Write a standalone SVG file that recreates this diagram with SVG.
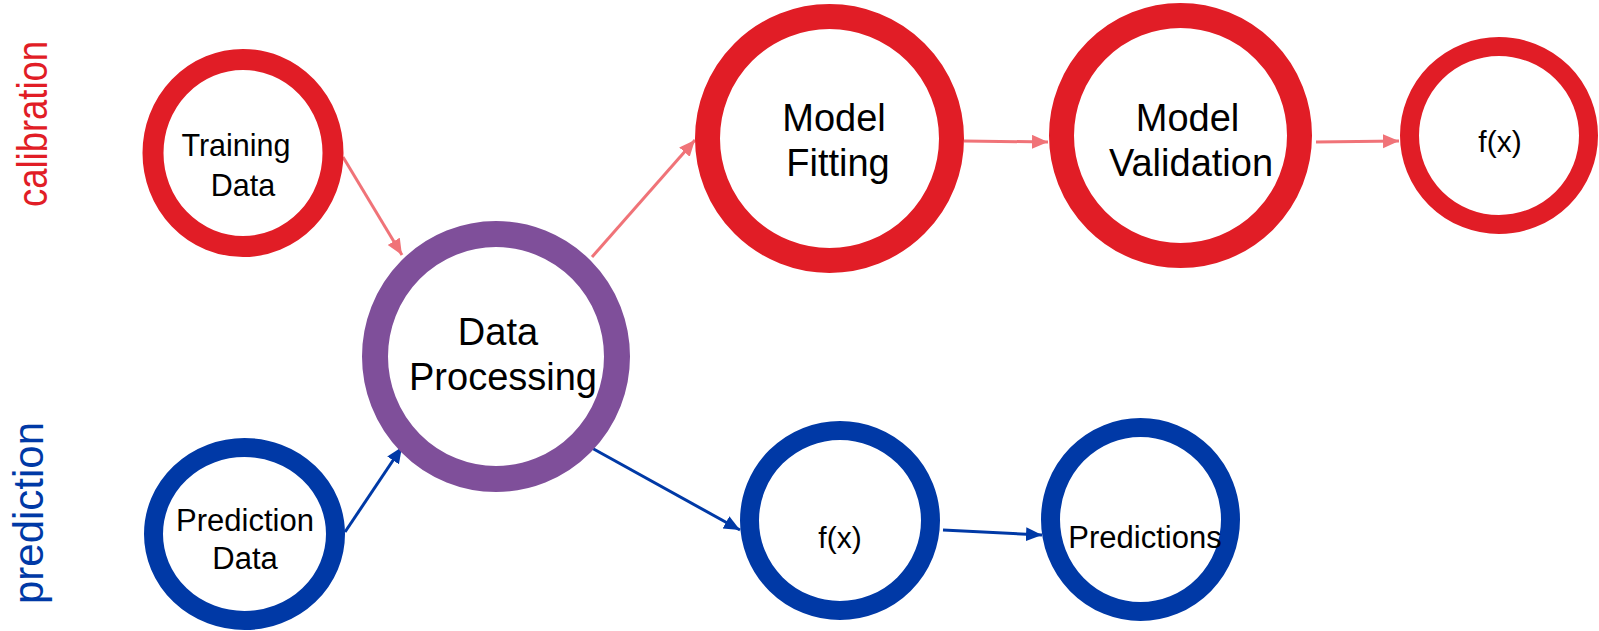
<svg xmlns="http://www.w3.org/2000/svg" width="1599" height="631" viewBox="0 0 1599 631">
<defs>
<style>
.red{fill:#fff;stroke:#E11D26}
.purple{fill:#fff;stroke:#7F4F9A}
.blue{fill:#fff;stroke:#0039A6}
.lbl{font-family:"Liberation Sans",Arial,sans-serif;fill:#000;text-anchor:middle}
.side{font-family:"Liberation Sans",Arial,sans-serif;font-size:42px;text-anchor:middle}
.cr{stroke:#F07378;stroke-width:3;fill:none;marker-end:url(#ah-r)}
.cb{stroke:#0039A6;stroke-width:3;fill:none;marker-end:url(#ah-b)}
</style>
<marker id="ah-r" markerUnits="userSpaceOnUse" markerWidth="18" markerHeight="16" refX="16" refY="7" orient="auto">
<path d="M0,0 L16,7 L0,14 z" fill="#F07378"/>
</marker>
<marker id="ah-b" markerUnits="userSpaceOnUse" markerWidth="18" markerHeight="16" refX="16" refY="7" orient="auto">
<path d="M0,0 L16,7 L0,14 z" fill="#0039A6"/>
</marker>
</defs>
<rect width="1599" height="631" fill="#fff"/>

<g id="side-labels">
<text class="side" fill="#E11D26" transform="translate(47,124) rotate(-90)" textLength="166" lengthAdjust="spacingAndGlyphs">calibration</text>
<text class="side" fill="#0039A6" transform="translate(43,513) rotate(-90)">prediction</text>
</g>

<g id="connectors">
<line class="cr" x1="343" y1="157" x2="402" y2="255"/>
<line class="cb" x1="345" y1="532" x2="402" y2="447"/>
<line class="cr" x1="592" y1="257" x2="695" y2="140"/>
<line class="cb" x1="590" y1="447" x2="740" y2="530"/>
<line class="cr" x1="964" y1="141" x2="1048" y2="142"/>
<line class="cr" x1="1316" y1="142" x2="1399" y2="141"/>
<line class="cb" x1="943" y1="530" x2="1042" y2="535"/>
</g>

<g id="training-data">
<ellipse class="red" cx="243" cy="153" rx="90" ry="93.5" stroke-width="21"/>
<text class="lbl" font-size="30.5" x="236" y="156">Training</text>
<text class="lbl" font-size="30.5" x="243" y="196">Data</text>
</g>

<g id="prediction-data">
<ellipse class="blue" cx="244.5" cy="534" rx="91" ry="86.5" stroke-width="19"/>
<text class="lbl" font-size="31" x="245" y="531">Prediction</text>
<text class="lbl" font-size="31" x="245" y="569">Data</text>
</g>

<g id="data-processing">
<ellipse class="purple" cx="496" cy="356.5" rx="121" ry="122.5" stroke-width="26"/>
<text class="lbl" font-size="38" x="498" y="345">Data</text>
<text class="lbl" font-size="38" x="503" y="390">Processing</text>
</g>

<g id="model-fitting">
<ellipse class="red" cx="829.5" cy="138.5" rx="122" ry="122" stroke-width="25"/>
<text class="lbl" font-size="38" x="834" y="130.5">Model</text>
<text class="lbl" font-size="38" x="838" y="175.5">Fitting</text>
</g>

<g id="model-validation">
<ellipse class="red" cx="1180.5" cy="135.5" rx="119" ry="120" stroke-width="25"/>
<text class="lbl" font-size="38" x="1187.5" y="130.5">Model</text>
<text class="lbl" font-size="38" x="1191" y="175.5">Validation</text>
</g>

<g id="fx-calibration">
<ellipse class="red" cx="1499" cy="135.5" rx="89.5" ry="89" stroke-width="19"/>
<text class="lbl" font-size="30" x="1500" y="152">f(x)</text>
</g>

<g id="fx-prediction">
<ellipse class="blue" cx="840" cy="520.5" rx="90.5" ry="90" stroke-width="19"/>
<text class="lbl" font-size="30" x="840" y="548">f(x)</text>
</g>

<g id="predictions">
<ellipse class="blue" cx="1140.5" cy="519.5" rx="90" ry="92" stroke-width="19"/>
<text class="lbl" font-size="31" x="1145" y="548">Predictions</text>
</g>
</svg>
